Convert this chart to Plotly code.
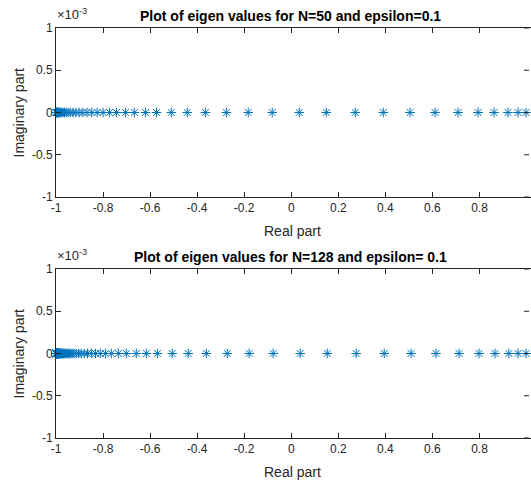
import plotly.graph_objects as go

# Eigenvalues (real parts) for N=50, epsilon=0.1
real_n50 = [
    0.998, 0.964, 0.921, 0.862, 0.794, 0.709, 0.611, 0.505, 0.391, 0.272,
    0.149, 0.034, -0.081, -0.183, -0.276, -0.365, -0.442, -0.510, -0.573, -0.620,
    -0.667, -0.705, -0.743, -0.773, -0.800, -0.825, -0.848, -0.868, -0.886, -0.902,
    -0.916, -0.928, -0.939, -0.949, -0.957, -0.964, -0.970, -0.975, -0.980, -0.984,
    -0.987, -0.990, -0.992, -0.994, -0.996, -0.997, -0.998, -0.999, -0.9995, -1.0,
]
imag_n50 = [0.0] * len(real_n50)

# Eigenvalues (real parts) for N=128, epsilon=0.1
real_n128 = [
    0.998, 0.964, 0.925, 0.866, 0.798, 0.713, 0.615, 0.509, 0.395, 0.276,
    0.153, 0.038, -0.077, -0.179, -0.272, -0.361, -0.438, -0.506, -0.569, -0.616,
    -0.659, -0.701, -0.735, -0.765, -0.790, -0.812, -0.832, -0.850, -0.866, -0.880,
    -0.893, -0.904, -0.914, -0.923, -0.931, -0.937, -0.943, -0.948, -0.953, -0.957,
    -0.961, -0.965, -0.968, -0.971, -0.974, -0.976, -0.978, -0.980, -0.982, -0.9835,
    -0.985, -0.9863, -0.9875, -0.9886, -0.9896, -0.9905, -0.9913, -0.9920, -0.9927, -0.9933,
    -0.9938, -0.9943, -0.9948, -0.9952, -0.9956, -0.9960, -0.9963, -0.9966, -0.9969, -0.9971,
    -0.9973, -0.9975, -0.9977, -0.9979, -0.9980, -0.9982, -0.9983, -0.9984, -0.9985, -0.9986,
    -0.9987, -0.9988, -0.9989, -0.9990, -0.99905, -0.9991, -0.99915, -0.9992, -0.99925, -0.9993,
    -0.99935, -0.9994, -0.99945, -0.9995, -0.99953, -0.99956, -0.99959, -0.99962, -0.99965, -0.99968,
    -0.99971, -0.99974, -0.99977, -0.9998, -0.99982, -0.99984, -0.99986, -0.99988, -0.9999, -0.99991,
    -0.99992, -0.99993, -0.99994, -0.99995, -0.99996, -0.99997, -0.99998, -0.99999, -1.0,
]
imag_n128 = [0.0] * len(real_n128)

x_ticks = [-1, -0.8, -0.6, -0.4, -0.2, 0, 0.2, 0.4, 0.6, 0.8]
x_tick_text = ["-1", "-0.8", "-0.6", "-0.4", "-0.2", "0", "0.2", "0.4", "0.6", "0.8"]
y_ticks = [-1e-3, -0.5e-3, 0, 0.5e-3, 1e-3]
y_tick_text = ["-1", "-0.5", "0", "0.5", "1"]

titles = ["Plot of eigen values for N=50 and epsilon=0.1",
          "Plot of eigen values for N=128 and epsilon= 0.1"]

W, H = 531, 482
FONT = "Liberation Sans, Arial, Helvetica, sans-serif"
AX = "#262626"
BLUE = "#0072BD"

def px_x(p):
    return p / W

def px_y(p):
    return 1 - p / H

fig = go.Figure()
fig.add_trace(go.Scatter(x=real_n50, y=imag_n50, mode="markers", xaxis="x", yaxis="y",
                         marker=dict(symbol="asterisk-open", size=8, color=BLUE,
                                     line=dict(color=BLUE, width=1)),
                         cliponaxis=False, showlegend=False))
fig.add_trace(go.Scatter(x=real_n128, y=imag_n128, mode="markers", xaxis="x2", yaxis="y2",
                         marker=dict(symbol="asterisk-open", size=8, color=BLUE,
                                     line=dict(color=BLUE, width=1)),
                         cliponaxis=False, showlegend=False))

x_left = 56
x_unit = 236.25
x_max = -1 + (W + 2 - x_left) / x_unit

def xaxis_style(anchor):
    return dict(domain=[px_x(x_left), 1], range=[-1, x_max], anchor=anchor,
                tickvals=x_ticks, ticktext=x_tick_text, ticks="inside", ticklen=5,
                tickwidth=1, tickcolor=AX, showline=True, linecolor=AX, linewidth=1,
                mirror="ticks", showgrid=False, zeroline=False, automargin=False,
                tickfont=dict(family=FONT, size=12, color=AX))

def yaxis_style(anchor, top, bottom):
    return dict(domain=[px_y(bottom), px_y(top)], range=[-1e-3, 1e-3], anchor=anchor,
                tickvals=y_ticks, ticktext=y_tick_text, ticks="inside", ticklen=5,
                tickwidth=1, tickcolor=AX, showline=True, linecolor=AX, linewidth=1,
                mirror=False, showgrid=False, zeroline=False, automargin=False,
                tickfont=dict(family=FONT, size=12, color=AX))

panels = [(28, 197), (269, 438)]

fig.update_layout(
    width=W, height=H, margin=dict(l=0, r=0, t=0, b=0, autoexpand=False),
    paper_bgcolor="white", plot_bgcolor="white",
    xaxis=xaxis_style("y"), yaxis=yaxis_style("x", *panels[0]),
    xaxis2=xaxis_style("y2"), yaxis2=yaxis_style("x2", *panels[1]),
)

# right-hand tick marks (box ticks) at the inner y positions
shapes = []
for xref, yref in [("x domain", "y"), ("x2 domain", "y2")]:
    for yv in y_ticks:
        shapes.append(dict(type="line", xref=xref, yref=yref,
                           x0=1 - 2 / (W - x_left), x1=1 - 7 / (W - x_left), y0=yv, y1=yv,
                           line=dict(color=AX, width=1)))
fig.update_layout(shapes=shapes)

annotations = []
for (top, bottom), title in zip(panels, titles):
    mid = (top + bottom) / 2
    annotations.append(dict(text="<b>%s</b>" % title, x=px_x(290), y=px_y(top - 12),
                            xref="paper", yref="paper", showarrow=False,
                            xanchor="center", yanchor="middle",
                            font=dict(family=FONT, size=14, color="black")))
    annotations.append(dict(text="Real part", x=px_x(292), y=px_y(bottom + 34),
                            xref="paper", yref="paper", showarrow=False,
                            xanchor="center", yanchor="middle",
                            font=dict(family=FONT, size=14, color=AX)))
    annotations.append(dict(text="Imaginary part", x=px_x(18), y=px_y(mid),
                            xref="paper", yref="paper", showarrow=False, textangle=-90,
                            xanchor="center", yanchor="middle",
                            font=dict(family=FONT, size=14, color=AX)))
    annotations.append(dict(text="×10<sup>-3</sup>", x=px_x(55), y=px_y(top - 14),
                            xref="paper", yref="paper", showarrow=False,
                            xanchor="left", yanchor="middle",
                            font=dict(family=FONT, size=13, color=AX)))
fig.update_layout(annotations=annotations)

fig.write_html("out.html")
